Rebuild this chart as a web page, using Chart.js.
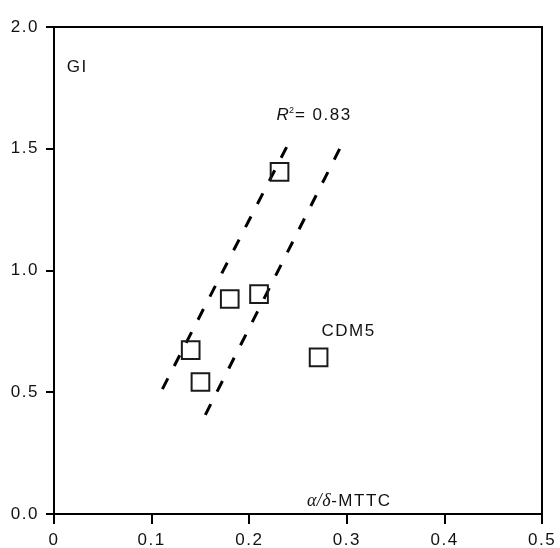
<!DOCTYPE html>
<html>
<head>
<meta charset="utf-8">
<script src="https://cdn.jsdelivr.net/npm/chart.js@4.4.1/dist/chart.umd.min.js"></script>
<style>
  html,body{margin:0;padding:0;background:#fff}
  #wrap{width:560px;height:548px;position:relative}
</style>
</head>
<body>
<div id="wrap"><canvas id="c"></canvas></div>
<script>
// GI vs alpha/delta-MTTC
const giX=[0.231,0.180,0.210,0.140,0.150,0.271];
const giY=[1.405,0.883,0.903,0.673,0.542,0.643];
// dashed band lines
const upperX=[0.111,0.242], upperY=[0.513,1.536];
const lowerX=[0.155,0.294], lowerY=[0.407,1.511];
const xTicks=[0,0.1,0.2,0.3,0.4,0.5];
const yTicks=[0,0.5,1.0,1.5,2.0];

const FONT='"Liberation Sans", Arial, Helvetica, sans-serif';
const INK='#111';
const pts=(xs,ys)=>xs.map((v,i)=>({x:v,y:ys[i]}));

const textPlugin={
  id:'txt',
  beforeDraw(chart){chart.ctx.letterSpacing='1.5px';},
  afterDatasetsDraw(chart){
    const {ctx,scales:{x,y}}=chart;
    ctx.save();
    ctx.fillStyle=INK;ctx.textBaseline='middle';ctx.textAlign='left';
    ctx.letterSpacing='1.5px';
    ctx.font='17px '+FONT;
    ctx.fillText('GI',x.getPixelForValue(0.013),y.getPixelForValue(1.835));
    ctx.fillText('CDM5',x.getPixelForValue(0.274),y.getPixelForValue(0.752));
    // R^2 = 0.83
    let px=x.getPixelForValue(0.228),py=y.getPixelForValue(1.636);
    ctx.letterSpacing='0px';
    ctx.font='italic 17px '+FONT;
    ctx.fillText('R',px,py);px+=ctx.measureText('R').width;
    ctx.font='9px '+FONT;
    ctx.fillText('2',px,py-5);px+=ctx.measureText('2').width+1;
    ctx.letterSpacing='1.5px';
    ctx.font='17px '+FONT;
    ctx.fillText('= 0.83',px,py);
    // alpha/delta-MTTC
    px=x.getPixelForValue(0.259);py=y.getPixelForValue(0.053);
    ctx.letterSpacing='0.5px';
    ctx.font='italic 18px "Liberation Serif", "DejaVu Serif", serif';
    ctx.fillText('α/δ',px,py);px+=ctx.measureText('α/δ').width;
    ctx.letterSpacing='1.5px';
    ctx.font='17px '+FONT;
    ctx.fillText('-MTTC',px,py);
    ctx.restore();
  }
};

const frame=(pos,axis)=>({
  type:'linear',position:pos,axis:axis,
  min:0,max:axis==='x'?0.5:2,
  grid:{display:false},ticks:{display:false},
  border:{display:true,color:'#000',width:2},
  afterFit(s){if(axis==='x')s.height=27;else s.width=17;}
});

new Chart(document.getElementById('c'),{
  type:'scatter',
  data:{datasets:[
    {data:pts(giX,giY),pointStyle:'rect',pointRadius:12.5,pointHoverRadius:12.5,
     borderColor:'#1a1a1a',borderWidth:2,backgroundColor:'rgba(0,0,0,0)'},
    {data:pts(upperX,upperY),showLine:true,pointRadius:0,borderColor:'#000',borderWidth:3,borderDash:[12,14]},
    {data:pts(lowerX,lowerY),showLine:true,pointRadius:0,borderColor:'#000',borderWidth:3,borderDash:[12,14]}
  ]},
  options:{
    responsive:true,maintainAspectRatio:false,animation:false,
    layout:{padding:0},
    plugins:{legend:{display:false},tooltip:{enabled:false}},
    scales:{
      x:{type:'linear',position:'bottom',min:0,max:0.5,
        afterBuildTicks(s){s.ticks=xTicks.map(v=>({value:v}));},
        ticks:{color:INK,font:{family:FONT,size:17},padding:6,maxRotation:0,
          callback:v=>v===0?'0':v.toFixed(1)},
        grid:{drawOnChartArea:false,tickLength:10,color:'#000',lineWidth:2},
        border:{display:true,color:'#000',width:2},
        afterFit(s){s.height=34;}
      },
      y:{type:'linear',position:'left',min:0,max:2,
        afterBuildTicks(s){s.ticks=yTicks.map(v=>({value:v}));},
        ticks:{color:INK,font:{family:FONT,size:17},padding:7,
          callback:v=>v.toFixed(1)},
        grid:{drawOnChartArea:false,tickLength:8,color:'#000',lineWidth:2},
        border:{display:true,color:'#000',width:2},
        afterFit(s){s.width=54;}
      },
      x2:frame('top','x'),
      y2:frame('right','y')
    }
  },
  plugins:[textPlugin]
});
</script>
</body>
</html>
